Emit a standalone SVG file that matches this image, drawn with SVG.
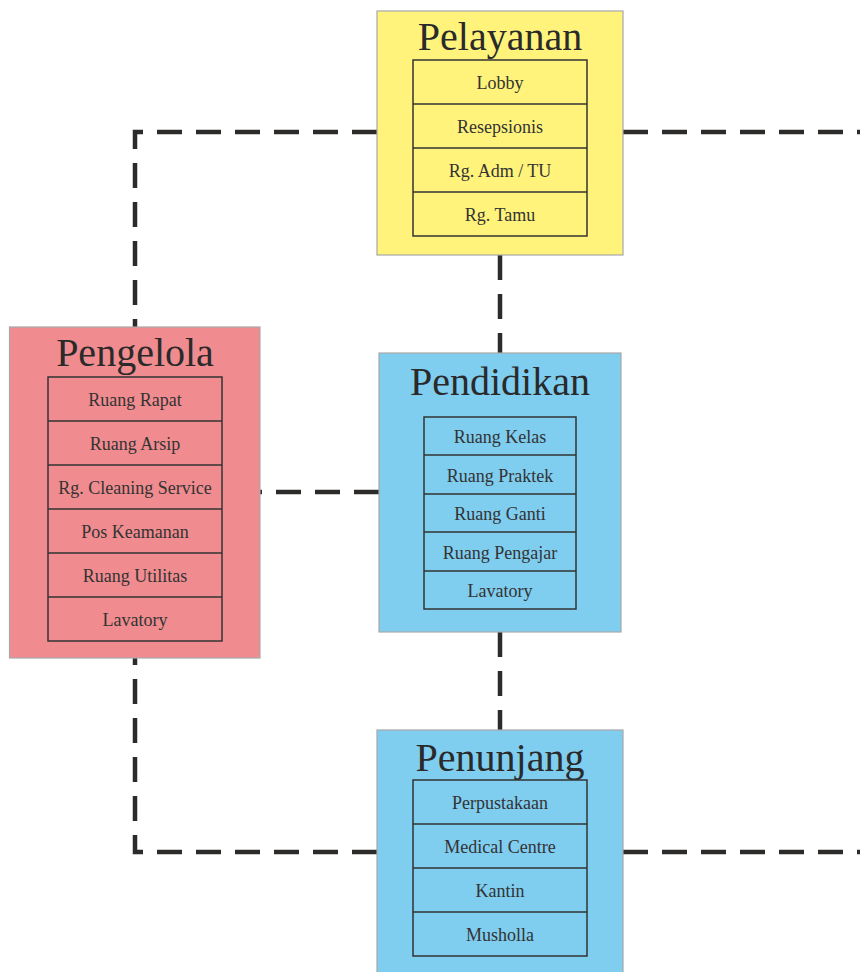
<svg xmlns="http://www.w3.org/2000/svg" width="860" height="972" viewBox="0 0 860 972">
<style>
.box{stroke:#a8a8a8;stroke-width:1.2}
.tbl{fill:none;stroke:#333;stroke-width:1.5}
.title{font-family:"Liberation Serif",serif;font-size:40px;fill:#2a2a2a;text-anchor:middle}
.item{font-family:"Liberation Serif",serif;font-size:18px;fill:#333;text-anchor:middle}
.conn{fill:none;stroke:#2d2a2a;stroke-width:4.5;stroke-dasharray:25 14}
</style>
<rect width="860" height="972" fill="#fff"/>
<g id="connectors">
<path class="conn" d="M377,132 H135 V327"/>
<path class="conn" d="M623,132 H860"/>
<path class="conn" d="M377,852 H135 V658"/>
<path class="conn" d="M623,852 H860"/>
<path class="conn" d="M500,255 V353"/>
<path class="conn" d="M500,632 V730"/>
<path class="conn" d="M379,492 H260"/>
</g>
<g id="pelayanan">
<rect class="box" x="377" y="11" width="246" height="244" fill="#fff37c"/>
<text class="title" x="500" y="50">Pelayanan</text>
<rect class="tbl" x="413" y="60" width="174" height="176"/>
<path class="tbl" d="M413,104H587M413,148H587M413,192H587"/>
<text class="item" x="500" y="89">Lobby</text>
<text class="item" x="500" y="133">Resepsionis</text>
<text class="item" x="500" y="177">Rg. Adm / TU</text>
<text class="item" x="500" y="221">Rg. Tamu</text>
</g>
<g id="pengelola">
<rect class="box" x="9.5" y="327" width="250.5" height="331" fill="#f08c8f"/>
<text class="title" x="135" y="366">Pengelola</text>
<rect class="tbl" x="48" y="377" width="174" height="264"/>
<path class="tbl" d="M48,421H222M48,465H222M48,509H222M48,553H222M48,597H222"/>
<text class="item" x="135" y="406">Ruang Rapat</text>
<text class="item" x="135" y="450">Ruang Arsip</text>
<text class="item" x="135" y="494">Rg. Cleaning Service</text>
<text class="item" x="135" y="538">Pos Keamanan</text>
<text class="item" x="135" y="582">Ruang Utilitas</text>
<text class="item" x="135" y="626">Lavatory</text>
</g>
<g id="pendidikan">
<rect class="box" x="379" y="353" width="242" height="279" fill="#7fcdef"/>
<text class="title" x="500" y="395">Pendidikan</text>
<rect class="tbl" x="424" y="417" width="152" height="192"/>
<path class="tbl" d="M424,455H576M424,494H576M424,532H576M424,571H576"/>
<text class="item" x="500" y="443">Ruang Kelas</text>
<text class="item" x="500" y="482">Ruang Praktek</text>
<text class="item" x="500" y="520">Ruang Ganti</text>
<text class="item" x="500" y="559">Ruang Pengajar</text>
<text class="item" x="500" y="597">Lavatory</text>
</g>
<g id="penunjang">
<rect class="box" x="377" y="730" width="246" height="250" fill="#7fcdef"/>
<text class="title" x="500" y="771">Penunjang</text>
<rect class="tbl" x="413" y="780" width="174" height="176"/>
<path class="tbl" d="M413,824H587M413,868H587M413,912H587"/>
<text class="item" x="500" y="809">Perpustakaan</text>
<text class="item" x="500" y="853">Medical Centre</text>
<text class="item" x="500" y="897">Kantin</text>
<text class="item" x="500" y="941">Musholla</text>
</g>
</svg>
